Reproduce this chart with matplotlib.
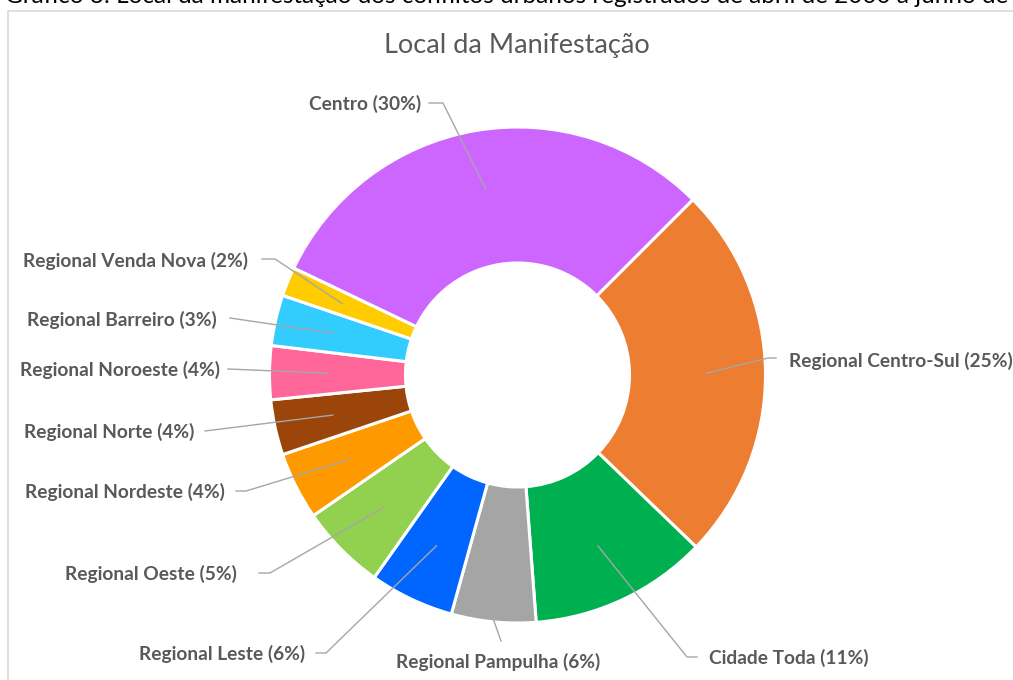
import numpy as np
import matplotlib
matplotlib.use("Agg")
import matplotlib.pyplot as plt

W, H = 1013, 680

# slices in clockwise order, starting at Regional Centro-Sul
locais = ["Regional Centro-Sul", "Cidade Toda", "Regional Pampulha", "Regional Leste",
          "Regional Oeste", "Regional Nordeste", "Regional Norte", "Regional Noroeste",
          "Regional Barreiro", "Regional Venda Nova", "Centro"]
shares = [24.7, 11.6, 5.5, 5.5, 5.6, 4.4, 3.6, 3.5, 3.3, 1.9, 30.4]
pct_labels = ["25%", "11%", "6%", "6%", "5%", "4%", "4%", "4%", "3%", "2%", "30%"]
cores = ["#ED7D31", "#00B050", "#A5A5A5", "#0066FF", "#92D050", "#FF9900",
         "#9C450B", "#FF6699", "#33CCFF", "#FFCC00", "#CC66FF"]

# label layout in pixel coords: (x, y, ha, line points from label towards slice)
layout = [
    (789, 361, "left",   [(776, 358), (768, 358)]),
    (709, 658, "left",   [(697, 657), (687, 657)]),
    (498, 662, "center", [(501, 641)]),
    (305, 654, "right",  [(316, 653), (326, 653)]),
    (237, 574, "right",  [(259, 573), (270, 573)]),
    (225, 492, "right",  [(236, 491), (246, 491)]),
    (194, 432, "right",  [(205, 431)]),
    (220, 370, "right",  [(228, 369)]),
    (217, 320, "right",  [(230, 318)]),
    (248, 261, "right",  [(262, 259), (275, 259)]),
    (421, 104, "right",  [(429, 103), (443, 103)]),
]

def py(y):
    return H - y

cx, cy = 517.5, 375
r_out, r_in = 248, 112

fig = plt.figure(figsize=(W / 100, H / 100), dpi=100)
ax = fig.add_axes([0, 0, 1, 1])

wedges, _ = ax.pie(shares, colors=cores, startangle=45, counterclock=False,
                   center=(cx, py(cy)), radius=r_out,
                   wedgeprops=dict(width=r_out - r_in, edgecolor="white", linewidth=2.2))

ax.set_xlim(0, W)
ax.set_ylim(0, H)
ax.set_aspect("equal")
ax.axis("off")

# chart frame
ax.plot([8, 8, W + 5], [py(H + 5), py(11), py(11)], color="#D9D9D9", lw=1.2,
        clip_on=False)

# caption of the document, cut at the top
ax.text(5, py(3), "Gráfico 3: Local da manifestação dos conflitos urbanos registrados "
        "de abril de 2000 a junho de 2008", fontsize=17.5, family="Lato",
        color="black", ha="left", va="baseline")

ax.text(517, py(45), "Local da Manifestação", fontsize=19.5, family="Lato",
        color="#595959", ha="center", va="center")

for w, nome, pct, (tx, ty, ha, pts) in zip(wedges, locais, pct_labels, layout):
    mid = np.radians((w.theta1 + w.theta2) / 2)
    r_end = 246 if nome == "Regional Pampulha" else 189
    ex = cx + r_end * np.cos(mid)
    ey = py(cy) + r_end * np.sin(mid)
    xs = [p[0] for p in pts] + [ex]
    ys = [py(p[1]) for p in pts] + [ey]
    ax.plot(xs, ys, color="#A6A6A6", lw=1.0, zorder=5)
    ax.text(tx, py(ty), f"{nome} ({pct})", fontsize=13.8, family="Lato",
            fontweight="bold", color="#595959", ha=ha, va="center")

fig.savefig("out.png", dpi=100)
